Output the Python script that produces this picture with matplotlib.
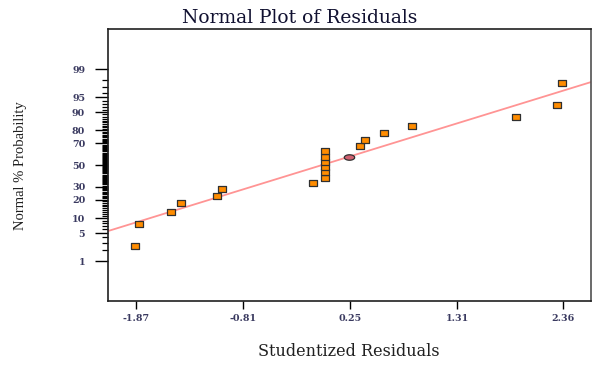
from statistics import NormalDist
import numpy as np
import matplotlib.pyplot as plt
from matplotlib.ticker import FixedLocator, FixedFormatter

# studentized residuals and their normal % probability
resid = [-1.88, -1.84, -1.52, -1.42, -1.07, -1.02, -0.12,
         0.0, 0.0, 0.0, 0.0, 0.0, 0.0,
         0.35, 0.40, 0.59, 0.86, 1.89, 2.30, 2.35]
prob = [2.5, 7.6, 12.7, 17.9, 22.8, 28.1, 33.1,
        37.9, 43.0, 48.1, 52.9, 58.0, 63.3,
        67.7, 72.8, 78.1, 82.8, 87.8, 92.7, 97.6]

# highlighted point
hl_resid = [0.24]
hl_prob = [58.0]

# reference line
line_resid = [-2.15, 2.64]
line_prob = [5.5, 97.8]

x_ticks = [-1.87, -0.81, 0.25, 1.31, 2.36]
x_tick_labels = ['-1.87', '-0.81', '0.25', '1.31', '2.36']
y_ticks = [1, 5, 10, 20, 30, 50, 70, 80, 90, 95, 99]
y_minor = [v for v in range(2, 99) if v not in y_ticks]

nd = NormalDist()


def probit(p):
    p = np.clip(np.asarray(p, dtype=float), 1e-6, 100 - 1e-6)
    return np.vectorize(lambda v: nd.inv_cdf(v / 100.0), otypes=[float])(p)


def inv_probit(z):
    z = np.asarray(z, dtype=float)
    return np.vectorize(lambda v: 100.0 * nd.cdf(v), otypes=[float])(z)


fig = plt.figure(figsize=(6, 3.73), dpi=100)
ax = fig.add_axes([0.18, 0.193, 0.805, 0.7285])
ax.set_yscale('function', functions=(probit, inv_probit))

ax.plot(line_resid, line_prob, color='#ff9494', lw=1.3, zorder=2)

rect = [(-1.7, -1), (1.7, -1), (1.7, 1), (-1.7, 1), (-1.7, -1)]
ax.plot(resid, prob, linestyle='none', marker=rect, markersize=6.3,
        markerfacecolor='#ff8c00', markeredgecolor='#303030',
        markeredgewidth=0.9, zorder=3)

t = np.linspace(0, 2 * np.pi, 40)
ell = list(zip(1.9 * np.cos(t), np.sin(t)))
ax.plot(hl_resid, hl_prob, linestyle='none', marker=ell, markersize=7.5,
        markerfacecolor='#d06070', markeredgecolor='#303030',
        markeredgewidth=0.9, zorder=4)

ax.set_xlim(-2.147, 2.637)
ax.set_ylim(inv_probit(-3.29), inv_probit(3.29))

ax.xaxis.set_major_locator(FixedLocator(x_ticks))
ax.xaxis.set_major_formatter(FixedFormatter(x_tick_labels))
ax.yaxis.set_major_locator(FixedLocator(y_ticks))
ax.yaxis.set_major_formatter(FixedFormatter([str(v) for v in y_ticks]))
ax.yaxis.set_minor_locator(FixedLocator(y_minor))
ax.yaxis.set_minor_formatter(FixedFormatter([''] * len(y_minor)))

ax.tick_params(axis='x', which='major', length=6, width=1, direction='out',
               pad=3.5, labelcolor='#3a3a60')
ax.tick_params(axis='y', which='major', length=9.5, width=1, direction='out',
               pad=7, labelcolor='#3a3a60')
ax.tick_params(axis='y', which='minor', length=4.3, width=0.9, direction='out')
for lbl in ax.get_xticklabels() + ax.get_yticklabels():
    lbl.set_fontfamily('DejaVu Serif')
    lbl.set_fontsize(6.8)
    lbl.set_fontweight('bold')

for side in ['left', 'bottom', 'top']:
    ax.spines[side].set_linewidth(1.2)
    ax.spines[side].set_color('#202020')
ax.spines['right'].set_linewidth(1.2)
ax.spines['right'].set_color('#505050')

fig.text(0.5, 0.953, 'Normal Plot of Residuals', ha='center', va='center',
         family='DejaVu Serif', size=13.5, color='#101030')
fig.text(0.582, 0.058, 'Studentized Residuals', ha='center', va='center',
         family='DejaVu Serif', size=11.5, color='#202020')
fig.text(0.034, 0.557, 'Normal % Probability', ha='center', va='center',
         rotation=90, family='Liberation Serif', size=10.5, color='#202020')

fig.savefig('out.png', dpi=100)
